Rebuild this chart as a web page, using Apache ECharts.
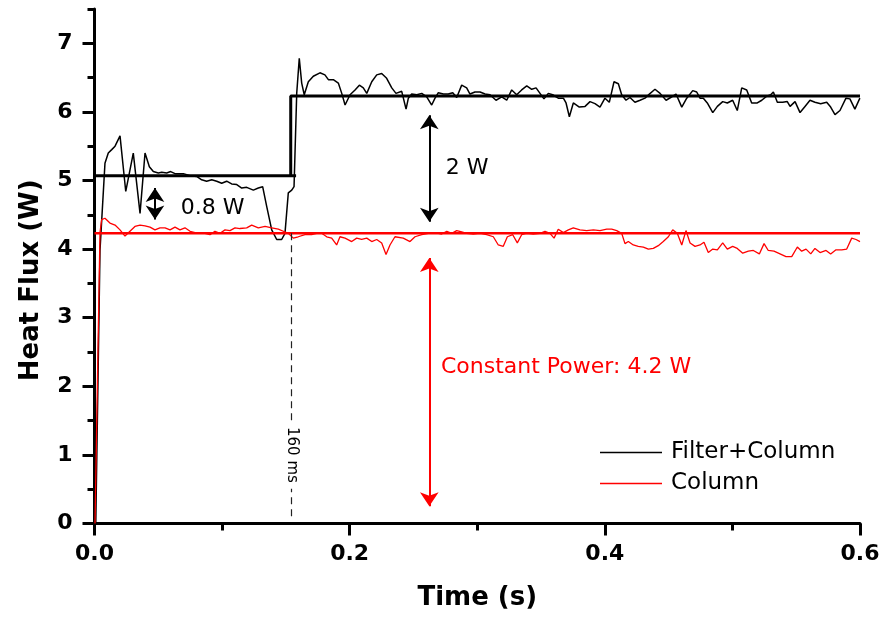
<!DOCTYPE html>
<html>
<head>
<meta charset="utf-8">
<script src="https://cdn.jsdelivr.net/npm/echarts@6/dist/echarts.min.js"></script>
<style>html,body{margin:0;padding:0;background:#fff}#chart{width:885px;height:620px}</style>
</head>
<body>
<div id="chart"></div>
<script>
// Filter+Column measured heat flux: [time (s), heat flux (W)]
const filterColumn = [[0.001,0],[0.0043,3.98],[0.0082,5.25],[0.0108,5.40],[0.0135,5.45],[0.0161,5.50],[0.0200,5.65],[0.0245,4.84],[0.0304,5.40],[0.0357,4.52],[0.0396,5.40],[0.0430,5.20],[0.0461,5.13],[0.0500,5.11],[0.0527,5.12],[0.0566,5.11],[0.0597,5.13],[0.0631,5.10],[0.0696,5.10],[0.0749,5.07],[0.0801,5.06],[0.0840,5.01],[0.0879,4.99],[0.0919,5.01],[0.0958,4.99],[0.0997,4.96],[0.1036,4.99],[0.1075,4.95],[0.1115,4.94],[0.1154,4.89],[0.1193,4.90],[0.1245,4.86],[0.1284,4.89],[0.1318,4.91],[0.1350,4.62],[0.1389,4.28],[0.1428,4.14],[0.1467,4.14],[0.1493,4.23],[0.1519,4.82],[0.1546,4.86],[0.1564,4.91],[0.1585,6.27],[0.1605,6.78],[0.1624,6.42],[0.1644,6.25],[0.1676,6.44],[0.1715,6.52],[0.1767,6.57],[0.1806,6.54],[0.1833,6.47],[0.1872,6.47],[0.1911,6.42],[0.1938,6.27],[0.1964,6.10],[0.2003,6.25],[0.2042,6.32],[0.2076,6.39],[0.2107,6.35],[0.2134,6.27],[0.2173,6.44],[0.2212,6.54],[0.2251,6.56],[0.2290,6.49],[0.2330,6.35],[0.2363,6.27],[0.2408,6.30],[0.2442,6.04],[0.2460,6.20],[0.2486,6.26],[0.2526,6.25],[0.2565,6.27],[0.2604,6.22],[0.2643,6.10],[0.2669,6.20],[0.2695,6.28],[0.2734,6.26],[0.2773,6.26],[0.2808,6.28],[0.2839,6.21],[0.2878,6.39],[0.2917,6.35],[0.2943,6.26],[0.2982,6.29],[0.3022,6.29],[0.3061,6.26],[0.3100,6.25],[0.3147,6.17],[0.3192,6.22],[0.3231,6.17],[0.3270,6.32],[0.3309,6.25],[0.3348,6.32],[0.3388,6.38],[0.3427,6.33],[0.3461,6.35],[0.3492,6.27],[0.3523,6.19],[0.3557,6.27],[0.3591,6.25],[0.3635,6.20],[0.3675,6.20],[0.3696,6.13],[0.3722,5.93],[0.3753,6.13],[0.3800,6.07],[0.3845,6.08],[0.3884,6.15],[0.3923,6.12],[0.3962,6.07],[0.4001,6.20],[0.4035,6.14],[0.4072,6.44],[0.4106,6.41],[0.4132,6.25],[0.4166,6.17],[0.4197,6.21],[0.4236,6.14],[0.4276,6.17],[0.4315,6.20],[0.4349,6.26],[0.4393,6.33],[0.4433,6.27],[0.4480,6.17],[0.4516,6.21],[0.4558,6.26],[0.4603,6.07],[0.4642,6.20],[0.4689,6.31],[0.4720,6.29],[0.4746,6.20],[0.4772,6.20],[0.4803,6.13],[0.4846,5.99],[0.4882,6.08],[0.4924,6.15],[0.4960,6.13],[0.5002,6.17],[0.5038,6.02],[0.5073,6.35],[0.5112,6.32],[0.5151,6.13],[0.5195,6.13],[0.5230,6.17],[0.5269,6.23],[0.5300,6.25],[0.5321,6.29],[0.5352,6.14],[0.5394,6.14],[0.5430,6.15],[0.5452,6.08],[0.5491,6.15],[0.5530,5.99],[0.5569,6.08],[0.5608,6.17],[0.5647,6.14],[0.5692,6.12],[0.5739,6.14],[0.5770,6.07],[0.5804,5.96],[0.5843,6.02],[0.5890,6.20],[0.5921,6.19],[0.5960,6.04],[0.5999,6.20]];

// Column measured heat flux: [time (s), heat flux (W)]
const column = [[0.0004,0],[0.0043,4.24],[0.0056,4.43],[0.0082,4.45],[0.0121,4.38],[0.0161,4.35],[0.0200,4.28],[0.0239,4.19],[0.0278,4.26],[0.0317,4.33],[0.0357,4.35],[0.0396,4.34],[0.0435,4.32],[0.0474,4.28],[0.0513,4.31],[0.0553,4.31],[0.0592,4.28],[0.0631,4.32],[0.0670,4.28],[0.0709,4.31],[0.0749,4.26],[0.0788,4.24],[0.0827,4.23],[0.0866,4.23],[0.0905,4.21],[0.0944,4.26],[0.0984,4.23],[0.1023,4.28],[0.1062,4.27],[0.1101,4.31],[0.1140,4.30],[0.1193,4.31],[0.1232,4.35],[0.1284,4.31],[0.1337,4.33],[0.1389,4.31],[0.1441,4.29],[0.1480,4.26],[0.1519,4.23],[0.1558,4.16],[0.1597,4.18],[0.1650,4.21],[0.1702,4.21],[0.1742,4.23],[0.1781,4.23],[0.1820,4.18],[0.1859,4.16],[0.1898,4.06],[0.1924,4.18],[0.1964,4.16],[0.2016,4.11],[0.2055,4.16],[0.2094,4.14],[0.2134,4.16],[0.2173,4.11],[0.2212,4.14],[0.2251,4.09],[0.2285,3.92],[0.2316,4.06],[0.2355,4.18],[0.2420,4.16],[0.2473,4.11],[0.2512,4.18],[0.2565,4.21],[0.2616,4.23],[0.2669,4.24],[0.2721,4.22],[0.2761,4.26],[0.2800,4.23],[0.2839,4.27],[0.2878,4.25],[0.2917,4.23],[0.2969,4.22],[0.3022,4.23],[0.3074,4.21],[0.3126,4.18],[0.3165,4.06],[0.3204,4.04],[0.3236,4.18],[0.3278,4.21],[0.3314,4.09],[0.3348,4.21],[0.3388,4.23],[0.3439,4.22],[0.3492,4.23],[0.3531,4.26],[0.3570,4.23],[0.3602,4.16],[0.3635,4.29],[0.3675,4.24],[0.3714,4.28],[0.3753,4.31],[0.3805,4.28],[0.3858,4.27],[0.3910,4.28],[0.3962,4.27],[0.4015,4.29],[0.4054,4.29],[0.4093,4.27],[0.4132,4.23],[0.4158,4.08],[0.4184,4.11],[0.4223,4.06],[0.4262,4.04],[0.4302,4.03],[0.4341,4.00],[0.4380,4.01],[0.4419,4.05],[0.4458,4.11],[0.4498,4.18],[0.4532,4.28],[0.4568,4.23],[0.4603,4.06],[0.4636,4.27],[0.4668,4.09],[0.4707,4.04],[0.4746,4.06],[0.4777,4.10],[0.4811,3.95],[0.4846,4.00],[0.4882,3.99],[0.4924,4.09],[0.4960,4.00],[0.5002,4.04],[0.5038,4.01],[0.5081,3.94],[0.5125,3.97],[0.5164,3.98],[0.5211,3.93],[0.5248,4.08],[0.5281,3.98],[0.5326,3.97],[0.5373,3.93],[0.5420,3.89],[0.5465,3.89],[0.5509,4.03],[0.5543,3.97],[0.5577,4.00],[0.5614,3.93],[0.5647,4.01],[0.5687,3.95],[0.5734,3.98],[0.5770,3.93],[0.5812,3.99],[0.5857,3.99],[0.5896,4.00],[0.5935,4.16],[0.5969,4.14],[0.6000,4.11]];

// Fitted levels
const stepTimes = [0, 0.158, 0.1538, 0.1538, 0.600];
const stepValues = [5.07, 5.07, 5.07, 6.23, 6.23];
const constTimes = [0, 0.600];
const constValues = [4.23, 4.23];

// Axis ticks
const yTickValues = [0, 1, 2, 3, 4, 5, 6, 7];
const xTickInterval = 0.2;

// Annotation anchors (data coordinates)
const switchTime = 0.1546;           // 160 ms marker
const arrowSmall = [0.0474, 4.89, 4.43];
const arrowBig = [0.2624, 5.95, 4.40];
const arrowPower = [0.2624, 3.87, 0.25];

const FONT = 'DejaVu Sans';
const zip = (t, v) => t.map((x, i) => [x, v[i]]);

const chart = echarts.init(document.getElementById('chart'), null, {renderer: 'canvas'});

const txt = (coord, text, extra) => ({
  coord: coord, symbol: 'circle', symbolSize: 1,
  itemStyle: {color: 'rgba(0,0,0,0)'},
  label: Object.assign({show: true, position: 'inside', formatter: text,
    color: '#000', fontSize: 22, fontFamily: FONT}, extra || {})
});

const arrow = (a, color) => [
  {coord: [a[0], a[1]], symbol: 'arrow', lineStyle: {color: color, width: 2, type: 'solid'}},
  {coord: [a[0], a[2]], symbol: 'arrow'}
];

chart.setOption({
  animation: false,
  backgroundColor: '#fff',
  grid: {left: 94.5, right: 25, top: 9, bottom: 96.5, containLabel: false},
  legend: {
    orient: 'vertical', left: 600, top: 441, padding: 0,
    icon: 'rect', itemWidth: 62, itemHeight: 1.6, itemGap: 8,
    data: ['Filter+Column', 'Column'],
    textStyle: {fontSize: 23, fontFamily: FONT, color: '#000', lineHeight: 22, padding: [0, 0, 0, 4]}
  },
  xAxis: {
    type: 'value', min: 0, max: 0.6, interval: xTickInterval,
    axisLine: {lineStyle: {color: '#000', width: 3}},
    axisTick: {show: true, length: 12, lineStyle: {color: '#000', width: 3}},
    minorTick: {show: true, splitNumber: 2, length: 7, lineStyle: {color: '#000', width: 3}},
    splitLine: {show: false}, minorSplitLine: {show: false},
    axisLabel: {formatter: v => v.toFixed(1), fontSize: 22, fontWeight: 'bold', fontFamily: FONT, color: '#000', margin: 20},
    name: 'Time (s)', nameLocation: 'middle', nameGap: 62,
    nameTextStyle: {fontSize: 26, fontWeight: 'bold', fontFamily: FONT, color: '#000'}
  },
  yAxis: [{
    type: 'value', min: 0, max: 7.5, interval: 0.5, position: 'left',
    axisLine: {show: true, lineStyle: {color: '#000', width: 3}},
    axisTick: {show: true, length: 7, lineStyle: {color: '#000', width: 3}},
    axisLabel: {show: false},
    splitLine: {show: false}
  }, {
    type: 'value', min: 0, max: 7.5, interval: 0.5, position: 'left',
    axisLine: {show: false},
    axisTick: {show: true, length: 12, customValues: yTickValues, lineStyle: {color: '#000', width: 3}},
    axisLabel: {show: true, customValues: yTickValues, formatter: v => String(v), fontSize: 22, fontWeight: 'bold', fontFamily: FONT, color: '#000', margin: 22},
    splitLine: {show: false},
    name: 'Heat Flux (W)', nameLocation: 'middle', nameGap: 50,
    nameTextStyle: {fontSize: 26, fontWeight: 'bold', fontFamily: FONT, color: '#000', padding: [0, 28, 0, 0]}
  }],
  series: [
    {name: 'Filter+Column', type: 'line', data: filterColumn, symbol: 'none', showSymbol: false,
     lineStyle: {color: '#000', width: 1.5}, itemStyle: {color: '#000'}, z: 2},
    {name: 'Column', type: 'line', data: column, symbol: 'none', showSymbol: false,
     lineStyle: {color: '#ff0000', width: 1.3}, itemStyle: {color: '#ff0000'}, z: 2},
    {name: 'Filter+Column fit', type: 'line', data: zip(stepTimes, stepValues), symbol: 'none',
     lineStyle: {color: '#000', width: 3}, z: 3},
    {name: 'Column fit', type: 'line', data: zip(constTimes, constValues), symbol: 'none',
     lineStyle: {color: '#ff0000', width: 2.5}, z: 3,
     markLine: {
       silent: true, symbolSize: 14, label: {show: false},
       data: [
         arrow(arrowSmall, '#000'),
         arrow(arrowBig, '#000'),
         arrow(arrowPower, '#ff0000'),
         [{coord: [switchTime, constValues[0]], symbol: 'none', lineStyle: {color: '#222', width: 1.2, type: [7, 5]}},
          {coord: [switchTime, 0.1], symbol: 'none'}]
       ]
     },
     markPoint: {
       silent: true,
       data: [
         txt([0.0925, 4.60], '0.8 W'),
         txt([0.2920, 5.18], '2 W'),
         txt([0.3696, 2.27], 'Constant Power: 4.2 W', {color: '#ff0000'}),
         txt([switchTime, 1.0], '160 ms', {fontSize: 15, rotate: -90, backgroundColor: '#fff', padding: [0, 6]})
       ]
     }}
  ]
});
</script>
</body>
</html>
